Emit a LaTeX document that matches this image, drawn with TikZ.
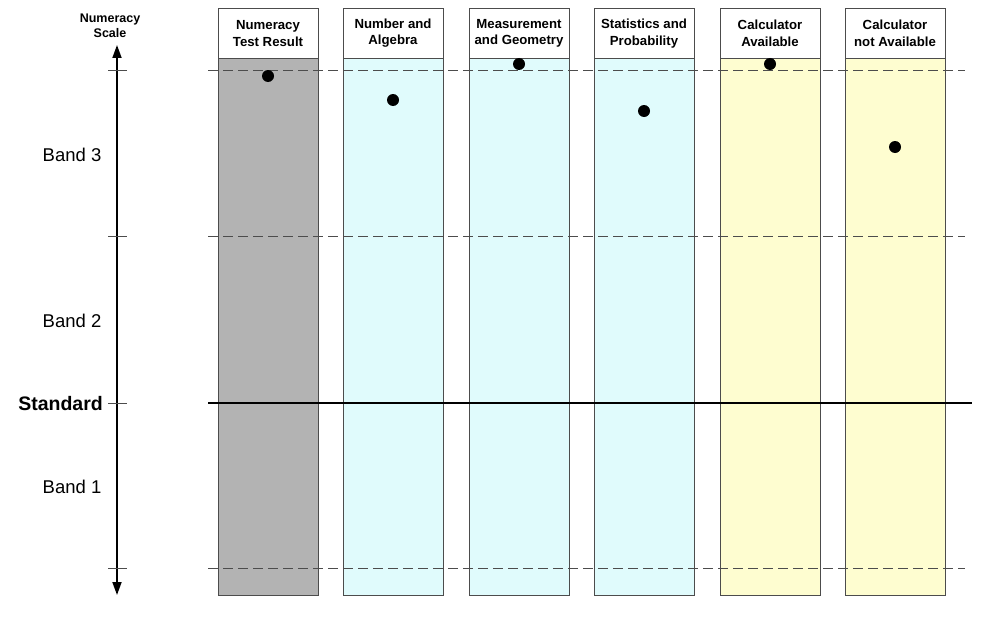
\documentclass[tikz,border=0pt]{standalone}
\usepackage{fontspec}
\setmainfont{Liberation Sans}
\usetikzlibrary{arrows.meta}
\definecolor{scoregray}{HTML}{B3B3B3}
\definecolor{strandcyan}{HTML}{E0FBFC}
\definecolor{calcyellow}{HTML}{FEFDD0}
\tikzset{
  colbox/.style={draw=black!70, line width=0.7pt, minimum width=100pt, minimum height=537pt, inner sep=0pt, anchor=north},
  colhead/.style={draw=black!70, fill=white, line width=0.7pt, minimum width=100pt, minimum height=50pt, anchor=north, align=center, font=\bfseries\fontsize{13.2}{16.5}\selectfont, inner sep=0pt},
  resultdot/.style={circle, fill=black, inner sep=0pt, minimum size=12pt},
  bandline/.style={dashed, dash pattern=on 10pt off 5pt, black!70, line width=0.7pt},
  bandlabel/.style={font=\fontsize{18.5}{22}\selectfont}
}
\begin{document}
\begin{tikzpicture}[x=1pt, y=-1pt]
\useasboundingbox (0,0) rectangle (984,626);
% columns
\node[colbox, fill=scoregray] (c1) at (268,58) {};
\node[colbox, fill=strandcyan] (c2) at (393,58) {};
\node[colbox, fill=strandcyan] (c3) at (519,58) {};
\node[colbox, fill=strandcyan] (c4) at (644,58) {};
\node[colbox, fill=calcyellow] (c5) at (770,58) {};
\node[colbox, fill=calcyellow] (c6) at (895,58) {};
\node[colhead] (h1) at (268,8) {Numeracy\\Test Result};
\node[colhead] (h2) at (393,8) {Number and\\Algebra};
\node[colhead] (h3) at (519,8) {Measurement\\and Geometry};
\node[colhead] (h4) at (644,8) {Statistics and\\Probability};
\node[colhead] (h5) at (770,8) {Calculator\\Available};
\node[colhead] (h6) at (895,8) {Calculator\\not Available};
% band limits
\foreach \y in {70,236,568}
  \draw[bandline] (208,\y) -- (965,\y);
\draw[line width=1.3pt] (208,403) -- (972,403);
% scale axis
\coordinate (axtop) at (117,45);
\coordinate (axbot) at (117,595);
\draw[line width=1.8pt, {Triangle[length=13pt,width=9pt]}-{Triangle[length=13pt,width=9pt]}] (axbot) -- (axtop);
\foreach \y in {70,236,403,568}
  \draw[black!70, line width=0.7pt] (108,\y) -- (127,\y);
\node[font=\bfseries\fontsize{12.5}{15.5}\selectfont, align=center] (scale) at (110,26) {Numeracy\\Scale};
\node[bandlabel] (b3) at (72,155) {Band 3};
\node[bandlabel] (b2) at (72,321) {Band 2};
\node[bandlabel, font=\bfseries\fontsize{19.5}{22}\selectfont, anchor=east, inner sep=1pt] (std) at (104,404) {Standard};
\node[bandlabel] (b1) at (72,487) {Band 1};
% results
\node[resultdot] (d1) at (268,76) {};
\node[resultdot] (d2) at (393,100) {};
\node[resultdot] (d3) at (519,64) {};
\node[resultdot] (d4) at (644,111) {};
\node[resultdot] (d5) at (770,64) {};
\node[resultdot] (d6) at (895,147) {};
\end{tikzpicture}
\end{document}
